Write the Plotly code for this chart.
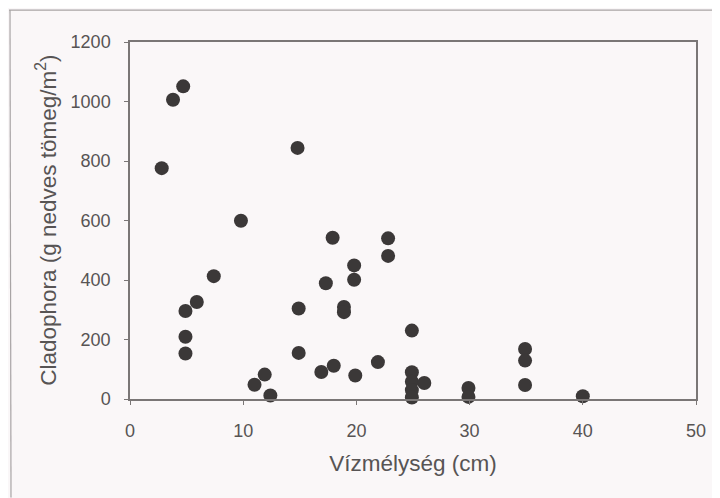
import plotly.graph_objects as go

depth_cm = [2.8, 3.8, 4.7, 4.9, 4.9, 4.9, 5.9, 7.4, 9.8, 11.0, 11.9, 12.4,
            14.8, 14.9, 14.9, 16.9, 17.3, 17.9, 18.0, 18.9, 18.9, 19.8, 19.8,
            19.9, 21.9, 22.8, 22.8, 24.9, 24.9, 24.9, 24.9, 24.9, 26.0,
            29.9, 29.9, 34.9, 34.9, 34.9, 40.0]
cladophora = [776, 1006, 1051, 296, 209, 153, 326, 413, 599, 48, 82, 12,
              844, 304, 155, 91, 389, 542, 112, 309, 292, 449, 401,
              79, 124, 540, 481, 230, 90, 58, 30, 5, 54,
              37, 7, 168, 129, 47, 9]

x_ticks = [0, 10, 20, 30, 40, 50]
y_ticks = [0, 200, 400, 600, 800, 1000, 1200]

axis_col = "#7a7676"
text_col = "#575454"
bg = "#faf7f8"

# page is offset by the 8px body margin; plot area in page px: 130..696 x 42..399.3
PL, PW, PB, PH = 130.0, 566.0, 399.3, 357.3


def px(xp):
    return (xp - PL) / PW


def py(yp):
    return (PB - yp) / PH


fig = go.Figure()
fig.add_trace(go.Scatter(
    x=depth_cm, y=cladophora, mode="markers",
    marker=dict(size=14, color="#3b3838", line=dict(width=0)),
    showlegend=False, cliponaxis=False,
))

fig.update_layout(
    width=712, height=490,
    margin=dict(l=122, r=24, t=34, b=99),
    paper_bgcolor=bg, plot_bgcolor=bg,
    font=dict(family="Liberation Sans", size=18, color=text_col),
    xaxis=dict(
        range=[0, 50], tickvals=x_ticks, showgrid=False, zeroline=False,
        showline=True, linecolor=axis_col, linewidth=1.5, mirror=True,
        ticks="outside", ticklen=4, tickcolor=axis_col, ticklabelstandoff=11,
        tickfont=dict(size=18, color=text_col),
        title=dict(text="Vízmélység (cm)", font=dict(size=22.5, color=text_col), standoff=15),
    ),
    yaxis=dict(
        range=[0, 1200], tickvals=y_ticks, showgrid=False, zeroline=False,
        showline=True, linecolor=axis_col, linewidth=1.5, mirror=True,
        ticks="outside", ticklen=4, tickcolor=axis_col, ticklabelstandoff=10,
        tickfont=dict(size=18, color=text_col),
    ),
    annotations=[
        dict(text="Cladophora (g nedves tömeg/m<sup>2</sup>)",
             xref="paper", yref="paper", x=px(46), y=py(221),
             xanchor="center", yanchor="middle", textangle=-90,
             showarrow=False, font=dict(size=22.5, color=text_col)),
    ],
    shapes=[
        dict(type="line", xref="paper", yref="paper",
             x0=px(9), x1=px(720), y0=py(10), y1=py(10),
             line=dict(color="#a8a4a5", width=1.2)),
        dict(type="line", xref="paper", yref="paper",
             x0=px(10), x1=px(11), y0=py(10), y1=py(498),
             line=dict(color="#a8a4a5", width=1.2)),
    ],
)

fig.write_html("out.html")
